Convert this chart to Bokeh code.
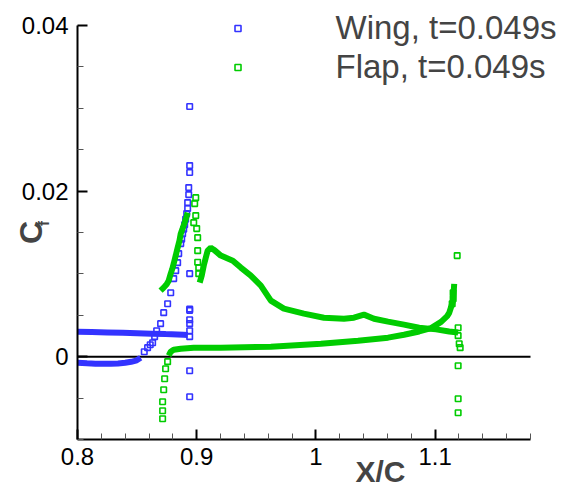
from bokeh.plotting import figure
from bokeh.models import FixedTicker, Label, Legend, LegendItem
from bokeh.embed import file_html
from bokeh.resources import INLINE
from math import pi

# ---------------- data ----------------
x_axis_bounds = (0.8, 1.18)
y_axis_bounds = (-0.01, 0.04)
x_ticks = [0.8, 0.9, 1.0, 1.1]
x_tick_labels = ["0.8", "0.9", "1", "1.1"]
x_minor = [0.82, 0.84, 0.86, 0.88, 0.92, 0.94, 0.96, 0.98,
           1.02, 1.04, 1.06, 1.08, 1.12, 1.14, 1.16, 1.18]
y_ticks = [0.0, 0.02, 0.04]
y_tick_labels = ["0", "0.02", "0.04"]
y_minor = [-0.01, -0.005, 0.005, 0.01, 0.015, 0.025, 0.03, 0.035]
zero_level = 0.0

wing_label = "Wing, t=0.049s"
flap_label = "Flap, t=0.049s"

# Wing (blue)
wing_upper_x = [0.800, 0.812, 0.825, 0.838, 0.850, 0.862, 0.874, 0.884, 0.889, 0.8925]
wing_upper_y = [0.00302, 0.00298, 0.00293, 0.00288, 0.00283, 0.00278, 0.00273, 0.00269, 0.00266, 0.00262]

wing_lower_x = [0.800, 0.808, 0.815, 0.822, 0.828, 0.834, 0.840, 0.845, 0.849, 0.853]
wing_lower_y = [-0.00073, -0.00080, -0.00085, -0.00086, -0.00085, -0.00081, -0.00073, -0.00062, -0.00048, -0.00012]

wing_rise_x = [0.8560, 0.8588, 0.8610, 0.8630, 0.8647, 0.8664, 0.8697, 0.8723, 0.8756, 0.8782,
               0.8807, 0.8824, 0.8840, 0.8849, 0.8866, 0.8874, 0.8882, 0.8891, 0.8899, 0.8907,
               0.8916, 0.8924, 0.8924, 0.8933, 0.8933, 0.8941, 0.8941, 0.8941]
wing_rise_y = [0.00060, 0.00109, 0.00145, 0.00169, 0.00242, 0.00314, 0.00399, 0.00532, 0.00640, 0.00773,
               0.00943, 0.01039, 0.01136, 0.01245, 0.01366, 0.01420, 0.01486, 0.01540, 0.01595, 0.01660,
               0.01728, 0.01789, 0.01861, 0.01958, 0.02042, 0.02224, 0.02308, 0.03021]

wing_te_x = [0.8941, 0.8941, 0.8941, 0.8941, 0.8941, 0.8941, 0.8941, 0.8941, 0.8941]
wing_te_y = [0.00242, 0.00314, 0.00399, 0.00447, 0.00560, 0.00575, 0.01003, -0.00169, -0.00483]

# Flap (green)
flap_le_x = [0.8697, 0.8723, 0.8748, 0.8765, 0.8782, 0.8795, 0.8807, 0.8824, 0.8840, 0.8855,
             0.8866, 0.8882, 0.8899, 0.8912, 0.8924]
flap_le_y = [0.00798, 0.00834, 0.00875, 0.00918, 0.01003, 0.01060, 0.01124, 0.01221, 0.01317, 0.01400,
             0.01486, 0.01550, 0.01619, 0.01680, 0.01740]

flap_scatter_x = [0.8975, 0.8983, 0.8992, 0.8992, 0.9000, 0.9008, 0.9008, 0.9008, 0.9017, 0.9017]
flap_scatter_y = [0.01619, 0.01849, 0.01921, 0.01704, 0.01547, 0.01438, 0.01281, 0.01140, 0.01076, 0.01003]

flap_upper_x = [0.9025, 0.9042, 0.9059, 0.9076, 0.9092, 0.9118, 0.9143, 0.9202, 0.9303, 0.9370,
                0.9454, 0.9538, 0.9622, 0.9731, 0.9899, 1.0067, 1.0235, 1.0319, 1.0403, 1.0487,
                1.0605, 1.0739, 1.0866, 1.1008, 1.1118, 1.1193]
flap_upper_y = [0.00894, 0.00979, 0.01100, 0.01196, 0.01281, 0.01317, 0.01293, 0.01221, 0.01160, 0.01076,
                0.00979, 0.00858, 0.00677, 0.00580, 0.00520, 0.00471, 0.00459, 0.00471, 0.00508, 0.00459,
                0.00423, 0.00387, 0.00350, 0.00330, 0.00305, 0.00292]

flap_lower_le_x = [0.8714, 0.8714, 0.8714, 0.8723, 0.8731, 0.8739, 0.8756]
flap_lower_le_y = [-0.00749, -0.00653, -0.00544, -0.00399, -0.00266, -0.00145, -0.00060]

flap_lower_x = [0.8765, 0.8782, 0.8807, 0.8866, 0.8975, 0.9202, 0.9622, 1.0042, 1.0353, 1.0605,
                1.0739, 1.0866, 1.0966, 1.1050, 1.1101, 1.1118, 1.1134, 1.1151, 1.1160]
flap_lower_y = [0.00012, 0.00060, 0.00085, 0.00097, 0.00109, 0.00109, 0.00121, 0.00157, 0.00193, 0.00230,
                0.00265, 0.00305, 0.00345, 0.00420, 0.00490, 0.00530, 0.00600, 0.00680, 0.00880]

flap_te_x = [1.1185, 1.1151, 1.1151, 1.1143, 1.1193, 1.1193, 1.1202, 1.1210, 1.1193, 1.1193, 1.1193]
flap_te_y = [0.01221, 0.00773, 0.00701, 0.00640, 0.00350, 0.00254, 0.00157, 0.00109, -0.00109, -0.00508, -0.00677]

# ---------------- layout ----------------
W, H = 566, 488
AX_L, AX_R, AX_T, AX_B = 77, 530, 25, 439          # pixel box of the axes
sx = (x_axis_bounds[1] - x_axis_bounds[0]) / (AX_R - AX_L)
sy = (y_axis_bounds[1] - y_axis_bounds[0]) / (AX_B - AX_T)
x_view = (x_axis_bounds[0] - AX_L * sx, x_axis_bounds[1] + (W - AX_R) * sx)
y_view = (y_axis_bounds[0] - (H - AX_B) * sy, y_axis_bounds[1] + AX_T * sy)

BLUE = "#3333ff"
GREEN = "#00cc00"
FONT = "Liberation Sans"

p = figure(width=W, height=H, x_range=x_view, y_range=y_view,
           output_backend="svg", toolbar_location=None,
           min_border_left=0, min_border_right=0, min_border_top=0, min_border_bottom=0)
p.xgrid.visible = False
p.ygrid.visible = False
p.outline_line_color = None
p.background_fill_color = "white"
p.border_fill_color = "white"

for ax in (p.xaxis[0], p.yaxis[0]):
    ax.axis_line_width = 2
    ax.axis_line_color = "black"
    ax.major_tick_in = 10
    ax.major_tick_out = 0
    ax.minor_tick_in = 6
    ax.minor_tick_out = 0
    ax.major_tick_line_width = 2
    ax.major_tick_line_color = "black"
    ax.minor_tick_line_width = 1
    ax.minor_tick_line_color = "#555555"
    ax.major_label_text_font = FONT
    ax.major_label_text_font_size = "24px"
    ax.major_label_text_color = "black"

xa = p.xaxis[0]
xa.ticker = FixedTicker(ticks=x_ticks, minor_ticks=x_minor)
xa.major_label_overrides = dict(zip(x_ticks, x_tick_labels))
xa.major_label_standoff = 8
xa.fixed_location = y_axis_bounds[0]
xa.bounds = x_axis_bounds

ya = p.yaxis[0]
ya.ticker = FixedTicker(ticks=y_ticks, minor_ticks=y_minor)
ya.major_label_overrides = dict(zip(y_ticks, y_tick_labels))
ya.major_label_standoff = 9
ya.fixed_location = x_axis_bounds[0]
ya.bounds = y_axis_bounds

# zero reference line across the axes box
p.line(list(x_axis_bounds), [zero_level, zero_level], line_color="black", line_width=2)

LW = 6
MS = 5.5

def draw(xs, ys, color, dense):
    if dense:
        return p.line(xs, ys, line_color=color, line_width=LW)
    return p.scatter(xs, ys, marker="square", size=MS, fill_color=None,
                     line_color=color, line_width=1.6)

draw(wing_upper_x, wing_upper_y, BLUE, True)
draw(wing_lower_x, wing_lower_y, BLUE, True)
r_wing = draw(wing_rise_x, wing_rise_y, BLUE, False)
draw(wing_te_x, wing_te_y, BLUE, False)

draw(flap_le_x, flap_le_y, GREEN, True)
draw(flap_scatter_x, flap_scatter_y, GREEN, False)
draw(flap_upper_x, flap_upper_y, GREEN, True)
draw(flap_lower_le_x, flap_lower_le_y, GREEN, False)
draw(flap_lower_x, flap_lower_y, GREEN, True)
r_flap = draw(flap_te_x, flap_te_y, GREEN, False)

legend = Legend(items=[LegendItem(label=wing_label, renderers=[r_wing]),
                       LegendItem(label=flap_label, renderers=[r_flap])],
                location=(229.5, 402.5), margin=0, padding=0, spacing=1,
                glyph_width=15, glyph_height=38, label_height=38,
                label_standoff=91,
                label_text_font=FONT, label_text_font_size="33px",
                border_line_color=None, background_fill_alpha=0)
p.add_layout(legend)

p.add_layout(Label(x=30, y=H - 232, x_units="screen", y_units="screen", text="C",
                   angle=pi / 2, text_align="center", text_baseline="middle",
                   text_font=FONT, text_font_style="bold", text_font_size="32px"))
p.add_layout(Label(x=43, y=H - 223, x_units="screen", y_units="screen", text="f",
                   angle=pi / 2, text_align="center", text_baseline="middle",
                   text_font=FONT, text_font_style="bold", text_font_size="15px"))
p.add_layout(Label(x=380, y=17, x_units="screen", y_units="screen", text="X/C",
                   text_align="center", text_baseline="alphabetic",
                   text_font=FONT, text_font_style="bold", text_font_size="30px"))

open("out.html", "w").write(file_html(p, INLINE))
